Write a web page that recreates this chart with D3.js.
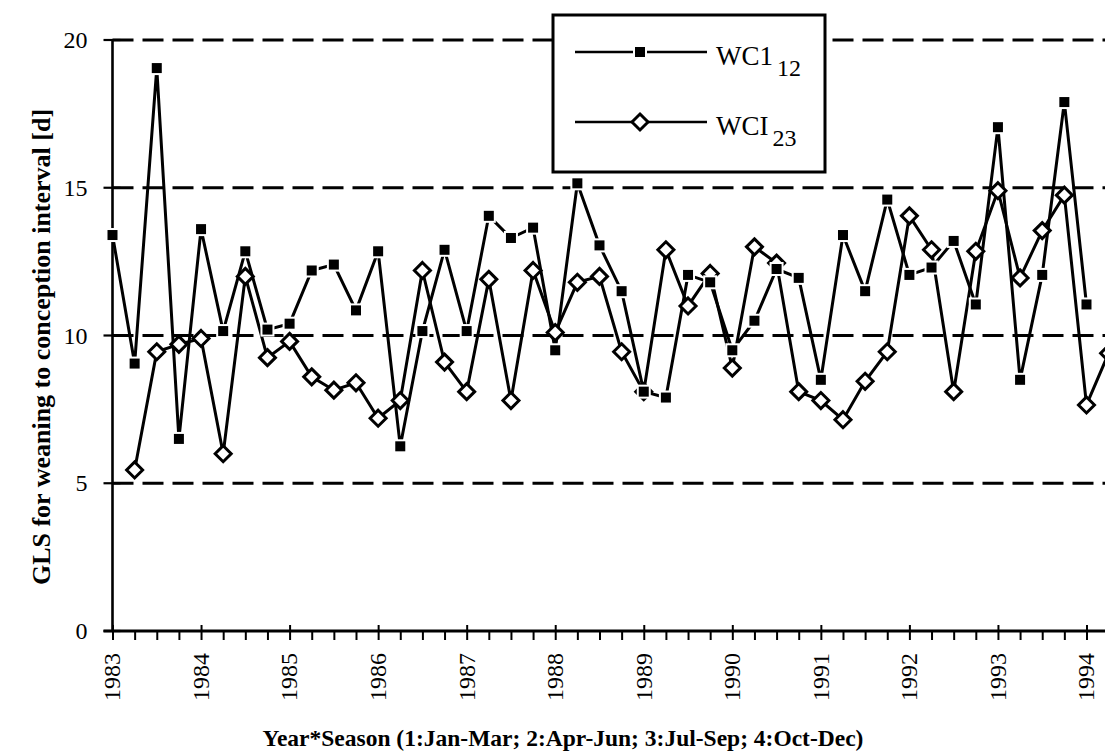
<!DOCTYPE html>
<html>
<head>
<meta charset="utf-8">
<script src="https://cdn.jsdelivr.net/npm/d3@7"></script>
<style>
  html, body { margin: 0; padding: 0; background: #fff; }
  svg { display: block; }
  text { font-family: "Liberation Serif", "Times New Roman", serif; fill: #000; }
</style>
</head>
<body>
<div id="chart"></div>
<script>
// ---- Data ----
const years = [1983,1984,1985,1986,1987,1988,1989,1990,1991,1992,1993,1994];
const seasons = [1,2,3,4];
// quarter categories 1983:1 ... 1994:2
const categories = [];
years.forEach(y => seasons.forEach(s => { if (!(y === 1994 && s > 2)) categories.push(y + ":" + s); }));

// WC1_12: 1983:1 ... 1994:1
const wc1Values = [
  13.4, 9.05, 19.05, 6.5,
  13.6, 10.15, 12.85, 10.2,
  10.4, 12.2, 12.4, 10.85,
  12.85, 6.25, 10.15, 12.9,
  10.15, 14.05, 13.3, 13.65,
  9.5, 15.15, 13.05, 11.5,
  8.1, 7.9, 12.05, 11.8,
  9.5, 10.5, 12.25, 11.95,
  8.5, 13.4, 11.5, 14.6,
  12.05, 12.3, 13.2, 11.05,
  17.05, 8.5, 12.05, 17.9,
  11.05
];
// WCI_23: 1983:2 ... 1994:2
const wciValues = [
  5.45, 9.45, 9.7,
  9.9, 6.0, 12.0, 9.25,
  9.8, 8.6, 8.15, 8.4,
  7.2, 7.8, 12.2, 9.1,
  8.1, 11.9, 7.8, 12.2,
  10.1, 11.8, 12.0, 9.45,
  8.1, 12.9, 11.0, 12.1,
  8.9, 13.0, 12.45, 8.1,
  7.8, 7.15, 8.45, 9.45,
  14.05, 12.9, 8.1, 12.85,
  14.9, 11.95, 13.55, 14.75,
  7.65, 9.4
];
const wc1Start = "1983:1";
const wciStart = "1983:2";
const yTicks = [0, 5, 10, 15, 20];
const gridValues = [5, 10, 15, 20];
const xTitle = "Year*Season (1:Jan-Mar; 2:Apr-Jun; 3:Jul-Sep; 4:Oct-Dec)";
const yTitle = "GLS for weaning to conception interval [d]";

// ---- Layout ----
const W = 1105, H = 756;
const svg = d3.select("#chart").append("svg").attr("width", W).attr("height", H);

const x = d3.scalePoint().domain(categories).range([112.5, 112.5 + 45 * 22.136]);
const y = d3.scaleLinear().domain([0, 20]).range([631, 40]);

const wc1Data = wc1Values.map((v, i) => ({ c: categories[categories.indexOf(wc1Start) + i], v }));
const wciData = wciValues.map((v, i) => ({ c: categories[categories.indexOf(wciStart) + i], v }));

// gridlines (dashed)
svg.append("g").selectAll("line").data(gridValues).join("line")
  .attr("x1", x.range()[0]).attr("x2", W)
  .attr("y1", d => y(d)).attr("y2", d => y(d))
  .attr("stroke", "#000").attr("stroke-width", 2.8)
  .attr("stroke-dasharray", "21,9");

// y axis
const yAxis = d3.axisLeft(y).tickValues(yTicks).tickSize(0).tickPadding(25);
const gy = svg.append("g").attr("transform", `translate(${x.range()[0]},0)`).call(yAxis);
gy.select(".domain").remove();
gy.selectAll("text").attr("font-size", 24).style("font-family", '"Liberation Serif", serif');
svg.append("line").attr("x1", x.range()[0]).attr("x2", x.range()[0])
  .attr("y1", y(20)).attr("y2", y(0) + 1).attr("stroke", "#000").attr("stroke-width", 2.6);
svg.append("g").selectAll("line").data(yTicks).join("line")
  .attr("x1", x.range()[0] - 9).attr("x2", x.range()[0] + 8)
  .attr("y1", d => y(d)).attr("y2", d => y(d))
  .attr("stroke", "#000").attr("stroke-width", 2.2);

// x axis
svg.append("line").attr("x1", x.range()[0] - 9).attr("x2", W)
  .attr("y1", y(0)).attr("y2", y(0)).attr("stroke", "#000").attr("stroke-width", 2.8);
const xAxis = d3.axisBottom(x).tickSize(9)
  .tickFormat(d => d.endsWith(":1") ? d.split(":")[0] : "");
const gx = svg.append("g").attr("transform", `translate(0,${y(0)})`).call(xAxis);
gx.select(".domain").remove();
gx.selectAll(".tick line").attr("stroke", "#000").attr("stroke-width", 2)
  .attr("y1", d => d.endsWith(":1") ? -6 : 0);
gx.selectAll(".tick text")
  .attr("font-size", 24).style("font-family", '"Liberation Serif", serif')
  .attr("transform", "rotate(-90)")
  .attr("text-anchor", "end")
  .attr("x", -22).attr("y", -1).attr("dy", "0.35em");

// lines
const line = d3.line().x(d => x(d.c)).y(d => y(d.v));
svg.append("path").datum(wciData).attr("d", line)
  .attr("fill", "none").attr("stroke", "#000").attr("stroke-width", 3).attr("stroke-linejoin", "miter");
svg.append("path").datum(wc1Data).attr("d", line)
  .attr("fill", "none").attr("stroke", "#000").attr("stroke-width", 3).attr("stroke-linejoin", "miter");

// markers
const dsz = 8;
function diamond(sel) {
  sel.attr("d", `M0,${-dsz}L${dsz},0L0,${dsz}L${-dsz},0Z`)
    .attr("fill", "#fff").attr("stroke", "#000").attr("stroke-width", 3);
}
function square(sel) {
  sel.attr("x", -5).attr("y", -5).attr("width", 10).attr("height", 10)
    .attr("fill", "#000").attr("stroke", "#fff").attr("stroke-width", 4)
    .style("paint-order", "stroke");
}
svg.append("g").selectAll("path").data(wciData).join("path")
  .attr("transform", d => `translate(${x(d.c)},${y(d.v)})`).call(diamond);
svg.append("g").selectAll("rect").data(wc1Data).join("rect")
  .attr("transform", d => `translate(${x(d.c)},${y(d.v)})`).call(square);

// legend
const lg = svg.append("g");
lg.append("rect").attr("x", 553).attr("y", 15).attr("width", 272).attr("height", 157)
  .attr("fill", "#fff").attr("stroke", "#000").attr("stroke-width", 3);
const legendItems = [
  { name: "WC1", sub: "12", y: 52, type: "square" },
  { name: "WCI", sub: "23", y: 122, type: "diamond" }
];
legendItems.forEach(it => {
  lg.append("line").attr("x1", 575).attr("x2", 707).attr("y1", it.y).attr("y2", it.y)
    .attr("stroke", "#000").attr("stroke-width", 2.4);
  if (it.type === "square") {
    lg.append("rect").attr("transform", `translate(640,${it.y})`).call(square);
  } else {
    lg.append("path").attr("transform", `translate(640,${it.y})`).call(diamond);
  }
  const t = lg.append("text").attr("x", 716).attr("y", it.y + 13).attr("font-size", 27);
  t.append("tspan").text(it.name);
  t.append("tspan").attr("dx", 4).attr("dy", 11).attr("font-size", 24).text(it.sub);
});

// axis titles
svg.append("text").attr("x", 563).attr("y", 746).attr("text-anchor", "middle")
  .attr("font-size", 23.5).attr("font-weight", "bold").text(xTitle);
svg.append("text").attr("transform", "translate(50,347) rotate(-90)")
  .attr("text-anchor", "middle").attr("font-size", 26).attr("font-weight", "bold").text(yTitle);
</script>
</body>
</html>
